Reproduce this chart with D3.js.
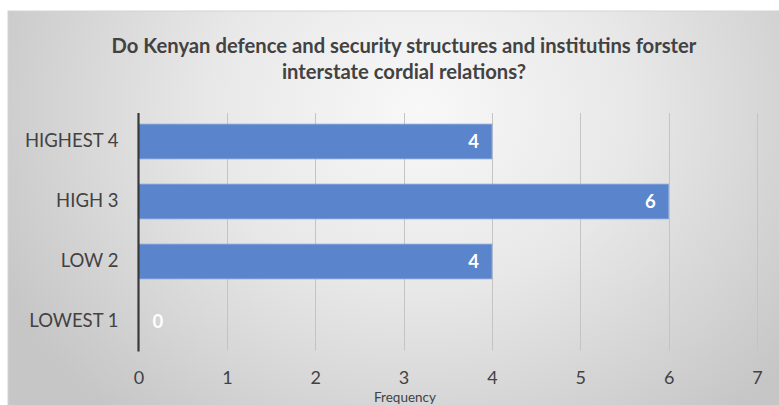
<!DOCTYPE html>
<html>
<head>
<meta charset="utf-8">
<script src="https://cdn.jsdelivr.net/npm/d3@7/dist/d3.min.js"></script>
<style>
  html, body { margin: 0; padding: 0; background: #ffffff; overflow: hidden; }
  svg { display: block; }
</style>
</head>
<body>
<svg id="chart" width="779" height="405"></svg>
<script>
// Survey responses: frequency per rating level
const categories = ["HIGHEST 4", "HIGH 3", "LOW 2", "LOWEST 1"];
const frequencies = [4, 6, 4, 0];
const xTicks = [0, 1, 2, 3, 4, 5, 6, 7];
const titleLines = [
  "Do Kenyan defence and security structures and institutins forster",
  "interstate cordial relations?"
];
const xAxisTitle = "Frequency";

const W = 779, H = 405;
const svg = d3.select("#chart");
const FONT = "Lato, 'Open Sans', 'DejaVu Sans', sans-serif";
const TEXT = "#424242";

// Chart area background with a soft radial sheen
const defs = svg.append("defs");
const grad = defs.append("radialGradient")
  .attr("id", "bg")
  .attr("gradientUnits", "userSpaceOnUse")
  .attr("cx", 420).attr("cy", 110).attr("r", 470)
  .attr("gradientTransform", "translate(420,110) scale(1,0.85) translate(-420,-110)");
grad.append("stop").attr("offset", "0%").attr("stop-color", "#f8f8f8");
grad.append("stop").attr("offset", "45%").attr("stop-color", "#e8e8e8");
grad.append("stop").attr("offset", "100%").attr("stop-color", "#c6c6c6");

svg.append("rect")
  .attr("x", 8).attr("y", 11)
  .attr("width", W - 8 + 2).attr("height", H - 11 + 2)
  .attr("fill", "url(#bg)")
  .attr("stroke", "#d4d4d4").attr("stroke-width", 1);

// Scales
const x = d3.scaleLinear().domain([0, 7]).range([138.5, 757]);
const y = d3.scaleBand().domain(categories).range([111.5, 351.5]).paddingInner(0.42).paddingOuter(0.21);

const plotTop = 113, plotBottom = 350.5;

// Vertical gridlines
svg.append("g")
  .selectAll("line")
  .data(xTicks.filter(t => t > 0))
  .join("line")
  .attr("x1", d => Math.round(x(d)) + 0.5)
  .attr("x2", d => Math.round(x(d)) + 0.5)
  .attr("y1", plotTop).attr("y2", plotBottom)
  .attr("stroke", "#c4c4c4").attr("stroke-width", 1);

// Bars
svg.append("g")
  .selectAll("rect")
  .data(categories.map((c, i) => ({ c, v: frequencies[i] })))
  .join("rect")
  .attr("x", x(0))
  .attr("y", d => y(d.c))
  .attr("width", d => x(d.v) - x(0))
  .attr("height", y.bandwidth())
  .attr("fill", "#5a84cb")
  .attr("stroke", d => d.v > 0 ? "#85a5dc" : "none")
  .attr("stroke-width", 0.8);

// Category axis line
svg.append("line")
  .attr("x1", x(0)).attr("x2", x(0))
  .attr("y1", plotTop).attr("y2", plotBottom + 1)
  .attr("stroke", "#3a3a3a").attr("stroke-width", 2.2);

// Value labels, inside the bar end
svg.append("g")
  .selectAll("text")
  .data(categories.map((c, i) => ({ c, v: frequencies[i] })))
  .join("text")
  .attr("x", d => (x(d.v) - x(0) > 40) ? x(d.v) - 13 : x(0) + 14)
  .attr("y", d => y(d.c) + y.bandwidth() / 2)
  .attr("dy", "0.36em")
  .attr("text-anchor", d => (x(d.v) - x(0) > 40) ? "end" : "start")
  .attr("font-family", FONT).attr("font-weight", "bold").attr("font-size", 18.5)
  .attr("fill", "#ffffff")
  .text(d => d.v);

// Category labels
const yAxis = d3.axisLeft(y).tickSize(0).tickPadding(20);
const gy = svg.append("g").attr("transform", `translate(${x(0)},0)`).call(yAxis);
gy.select(".domain").remove();
gy.selectAll("text")
  .attr("font-family", FONT).attr("font-size", 18.5)
  .attr("fill", TEXT);

// Value axis tick labels
const xAxis = d3.axisBottom(x).tickValues(xTicks).tickSize(0).tickPadding(0).tickFormat(d3.format("d"));
const gx = svg.append("g").attr("transform", `translate(0,${plotBottom})`).call(xAxis);
gx.select(".domain").remove();
gx.selectAll("text")
  .attr("y", 33.5)
  .attr("dy", 0)
  .attr("font-family", FONT).attr("font-size", 18)
  .attr("fill", TEXT);

// Axis title
svg.append("text")
  .attr("x", 405).attr("y", 401.5)
  .attr("text-anchor", "middle")
  .attr("font-family", FONT).attr("font-size", 13.5)
  .attr("fill", TEXT)
  .text(xAxisTitle);

// Chart title
const title = svg.append("g");
titleLines.forEach((line, i) => {
  title.append("text")
    .attr("x", 404).attr("y", 53 + i * 26)
    .attr("text-anchor", "middle")
    .attr("font-family", FONT).attr("font-weight", "bold").attr("font-size", 19)
    .attr("fill", TEXT)
    .text(line);
});
// Fit the long first line to its span
const first = title.select("text").node();
const len = first.getComputedTextLength();
if (len > 0) {
  const size = 19 * 585 / len;
  title.selectAll("text").attr("font-size", Math.min(size, 21));
}
</script>
</body>
</html>
